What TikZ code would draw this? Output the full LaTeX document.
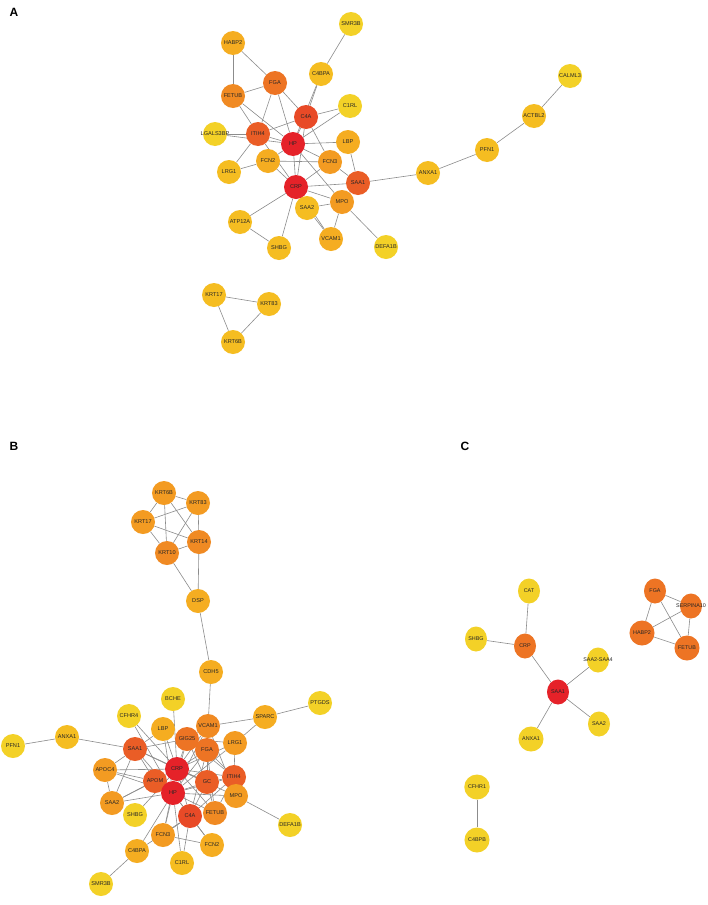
\documentclass[tikz,border=0pt]{standalone}
\usepackage{fontspec}
\newfontfamily\lab{Liberation Sans}
\usetikzlibrary{backgrounds}
\definecolor{cRed}{HTML}{E52229}
\definecolor{cRA}{HTML}{E84A27}
\definecolor{cRB}{HTML}{EA5D26}
\definecolor{cOA}{HTML}{ED7424}
\definecolor{cOB}{HTML}{F08A23}
\definecolor{cOC}{HTML}{F39B22}
\definecolor{cLO}{HTML}{F5AD21}
\definecolor{cGo}{HTML}{F5BD21}
\definecolor{cYe}{HTML}{F3D127}
\definecolor{cEdge}{HTML}{8C8C8C}
\tikzset{
  nd/.style={circle, minimum size=24pt, inner sep=0pt, draw=none, fill=#1,
    font=\lab\fontsize{5.6}{6}\selectfont, text=black!85},
  ndc/.style={ellipse, minimum width=22pt, minimum height=25pt, inner sep=0pt, draw=none, fill=#1,
    font=\lab\fontsize{5.4}{6}\selectfont, text=black!85},
  edge/.style={draw=cEdge, line width=0.6pt},
  panel/.style={font=\lab\bfseries\fontsize{12}{14}\selectfont, inner sep=0pt}
}
\usetikzlibrary{shapes.geometric}
\newcommand{\wide}[1]{\makebox[0pt]{#1}}
\begin{document}
\begin{tikzpicture}[x=1pt,y=-1pt]
\useasboundingbox (0,0) rectangle (708,905);
\node[panel] (pA) at (14,12) {A};
\node[panel] (pB) at (14,446) {B};
\node[panel] (pC) at (465,446) {C};
% ---------- Panel A ----------
\node[nd=cYe] (aSMR3B) at (351,24) {SMR3B};
\node[nd=cLO] (aHABP2) at (233,43) {HABP2};
\node[nd=cGo] (aC4BPA) at (321,74) {C4BPA};
\node[nd=cOA] (aFGA) at (275,83) {FGA};
\node[nd=cOB] (aFETUB) at (233,96) {FETUB};
\node[nd=cYe] (aC1RL) at (350,106) {C1RL};
\node[nd=cRA] (aC4A) at (306,117) {C4A};
\node[nd=cYe] (aLGALS3BP) at (215,134) {\wide{LGALS3BP}};
\node[nd=cRB] (aITIH4) at (258,134) {ITIH4};
\node[nd=cRed] (aHP) at (293,144) {HP};
\node[nd=cLO] (aLBP) at (348,142) {LBP};
\node[nd=cLO] (aFCN2) at (268,161) {FCN2};
\node[nd=cOC] (aFCN3) at (330,162) {FCN3};
\node[nd=cGo] (aLRG1) at (229,172) {LRG1};
\node[nd=cRed] (aCRP) at (296,187) {CRP};
\node[nd=cRB] (aSAA1) at (358,183) {SAA1};
\node[nd=cOC] (aMPO) at (342,202) {MPO};
\node[nd=cGo] (aSAA2) at (307,208) {SAA2};
\node[nd=cGo] (aATP12A) at (240,222) {ATP12A};
\node[nd=cLO] (aVCAM1) at (331,239) {VCAM1};
\node[nd=cGo] (aSHBG) at (279,248) {SHBG};
\node[nd=cYe] (aDEFA1B) at (386,247) {DEFA1B};
\node[nd=cGo] (aANXA1) at (428,173) {ANXA1};
\node[nd=cGo] (aPFN1) at (487,150) {PFN1};
\node[nd=cGo] (aACTBL2) at (534,116) {ACTBL2};
\node[nd=cYe] (aCALML3) at (570,76) {CALML3};
\node[nd=cGo] (aKRT17) at (214,295) {KRT17};
\node[nd=cGo] (aKRT83) at (269,304) {KRT83};
\node[nd=cGo] (aKRT6B) at (233,342) {KRT6B};
% ---------- Panel B ----------
\node[nd=cOC] (bKRT6B) at (164,493) {KRT6B};
\node[nd=cOC] (bKRT83) at (198,503) {KRT83};
\node[nd=cOC] (bKRT17) at (143,522) {KRT17};
\node[nd=cOB] (bKRT14) at (199,542) {KRT14};
\node[nd=cOB] (bKRT10) at (167,553) {KRT10};
\node[nd=cLO] (bDSP) at (198,601) {DSP};
\node[nd=cLO] (bCDH5) at (211,672) {CDH5};
\node[nd=cYe] (bBCHE) at (173,699) {BCHE};
\node[nd=cYe] (bPTGDS) at (320,703) {PTGDS};
\node[nd=cLO] (bSPARC) at (265,717) {SPARC};
\node[nd=cYe] (bCFHR4) at (129,716) {CFHR4};
\node[nd=cOB] (bVCAM1) at (208,726) {VCAM1};
\node[nd=cLO] (bLBP) at (163,729) {LBP};
\node[nd=cOA] (bGIG25) at (187,739) {GIG25};
\node[nd=cOC] (bLRG1) at (235,743) {LRG1};
\node[nd=cYe] (bPFN1) at (13,746) {PFN1};
\node[nd=cGo] (bANXA1) at (67,737) {ANXA1};
\node[nd=cRB] (bSAA1) at (135,749) {SAA1};
\node[nd=cOA] (bFGA) at (207,750) {FGA};
\node[nd=cRed] (bCRP) at (177,769) {CRP};
\node[nd=cOC] (bAPOC4) at (105,770) {APOC4};
\node[nd=cRB] (bITIH4) at (234,777) {ITIH4};
\node[nd=cRB] (bAPOM) at (155,781) {APOM};
\node[nd=cRB] (bGC) at (207,782) {GC};
\node[nd=cRed] (bHP) at (173,793) {HP};
\node[nd=cOC] (bMPO) at (236,796) {MPO};
\node[nd=cOC] (bSAA2) at (112,803) {SAA2};
\node[nd=cYe] (bSHBG) at (135,815) {SHBG};
\node[nd=cRA] (bC4A) at (190,816) {C4A};
\node[nd=cOB] (bFETUB) at (215,813) {FETUB};
\node[nd=cYe] (bDEFA1B) at (290,825) {DEFA1B};
\node[nd=cOC] (bFCN3) at (163,835) {FCN3};
\node[nd=cLO] (bFCN2) at (212,845) {FCN2};
\node[nd=cLO] (bC4BPA) at (137,851) {C4BPA};
\node[nd=cGo] (bC1RL) at (182,863) {C1RL};
\node[nd=cYe] (bSMR3B) at (101,884) {SMR3B};
% ---------- Panel C ----------
\node[ndc=cYe] (cCAT) at (529,591) {CAT};
\node[ndc=cYe] (cSHBG) at (476,639) {SHBG};
\node[ndc=cOA] (cCRP) at (525,646) {CRP};
\node[ndc=cYe] (cSAA24) at (598,660) {\wide{SAA2-SAA4}};
\node[ndc=cRed] (cSAA1) at (558,692) {SAA1};
\node[ndc=cYe] (cSAA2) at (599,724) {SAA2};
\node[ndc=cYe] (cANXA1) at (531,739) {ANXA1};
\node[ndc=cOA] (cFGA) at (655,591) {FGA};
\node[ndc=cOA] (cSERP) at (691,606) {\wide{SERPINA10}};
\node[ndc=cOA] (cHABP2) at (642,633) {HABP2};
\node[ndc=cOA] (cFETUB) at (687,648) {FETUB};
\node[ndc=cYe] (cCFHR1) at (477,787) {CFHR1};
\node[ndc=cYe] (cC4BPB) at (477,840) {C4BPB};
% ---------- Edges ----------
\begin{pgfonlayer}{background}
\fill[white] (0,0) rectangle (708,905);
\foreach \a/\b in {aSMR3B/aC4BPA, aHABP2/aFETUB, aHABP2/aFGA, aFGA/aFETUB, aC4BPA/aC4A, aC4BPA/aHP,
  aC1RL/aC4A, aC1RL/aHP, aFGA/aC4A, aFGA/aITIH4, aFGA/aHP, aFETUB/aITIH4, aFETUB/aHP,
  aITIH4/aC4A, aLGALS3BP/aITIH4, aLGALS3BP/aHP, aITIH4/aHP, aHP/aC4A, aITIH4/aLRG1,
  aLRG1/aFCN2, aITIH4/aCRP, aFCN2/aHP, aFCN2/aCRP, aFCN2/aFCN3, aHP/aLBP, aHP/aFCN3,
  aHP/aCRP, aHP/aMPO, aLBP/aSAA1, aFCN3/aSAA1, aCRP/aFCN3, aCRP/aSAA1, aCRP/aMPO,
  aCRP/aSAA2, aCRP/aATP12A, aCRP/aSHBG, aATP12A/aSHBG, aSAA1/aMPO, aSAA1/aANXA1,
  aSAA2/aMPO, aSAA2/aVCAM1, aMPO/aVCAM1, aMPO/aDEFA1B, aCRP/aVCAM1, aC4A/aFCN3,
  aC4A/aCRP, aANXA1/aPFN1, aPFN1/aACTBL2, aACTBL2/aCALML3,
  aKRT17/aKRT83, aKRT17/aKRT6B, aKRT83/aKRT6B}
  \draw[edge] (\a) -- (\b);
\foreach \a/\b in {bKRT6B/bKRT83, bKRT6B/bKRT17, bKRT6B/bKRT10, bKRT6B/bKRT14, bKRT83/bKRT17,
  bKRT83/bKRT10, bKRT83/bKRT14, bKRT17/bKRT10, bKRT17/bKRT14, bKRT10/bKRT14, bKRT10/bDSP,
  bKRT14/bDSP, bDSP/bCDH5, bCDH5/bVCAM1, bBCHE/bCRP, bCFHR4/bCRP, bCFHR4/bHP, bLBP/bSAA1,
  bLBP/bCRP, bLBP/bHP, bSAA1/bANXA1, bANXA1/bPFN1, bSAA1/bCRP, bSAA1/bHP, bSAA1/bAPOM,
  bSAA1/bAPOC4, bSAA1/bSAA2, bSAA1/bGIG25, bSAA1/bGC, bAPOC4/bAPOM, bAPOC4/bCRP, bAPOC4/bHP,
  bAPOC4/bSAA2, bSAA2/bAPOM, bSAA2/bHP, bSAA2/bCRP, bSHBG/bCRP, bVCAM1/bSPARC, bVCAM1/bCRP,
  bVCAM1/bGIG25, bVCAM1/bHP, bVCAM1/bMPO, bSPARC/bPTGDS, bSPARC/bLRG1, bLRG1/bITIH4,
  bLRG1/bCRP, bLRG1/bHP, bLRG1/bGIG25, bGIG25/bCRP, bGIG25/bHP, bGIG25/bFGA, bGIG25/bGC,
  bGIG25/bITIH4, bFGA/bCRP, bFGA/bHP, bFGA/bGC, bFGA/bITIH4, bFGA/bFETUB, bFGA/bC4A,
  bCRP/bHP, bCRP/bGC, bCRP/bAPOM, bCRP/bITIH4, bCRP/bC4A, bCRP/bFETUB, bCRP/bMPO, bCRP/bFCN3,
  bHP/bGC, bHP/bAPOM, bHP/bITIH4, bHP/bC4A, bHP/bFETUB, bHP/bFCN3, bHP/bC1RL, bHP/bC4BPA,
  bHP/bFCN2, bHP/bMPO, bGC/bITIH4, bGC/bC4A, bGC/bFETUB, bITIH4/bMPO, bITIH4/bC4A,
  bITIH4/bFETUB, bMPO/bDEFA1B, bC4A/bFCN2, bC4A/bFCN3, bC4A/bC4BPA, bC4A/bC1RL,
  bFCN3/bFCN2, bC4BPA/bSMR3B}
  \draw[edge] (\a) -- (\b);
\foreach \a/\b in {cCAT/cCRP, cSHBG/cCRP, cCRP/cSAA1, cSAA1/cSAA24, cSAA1/cSAA2, cSAA1/cANXA1,
  cFGA/cHABP2, cFGA/cFETUB, cFGA/cSERP, cHABP2/cSERP, cHABP2/cFETUB, cSERP/cFETUB, cCFHR1/cC4BPB}
  \draw[edge] (\a) -- (\b);
\end{pgfonlayer}
\end{tikzpicture}
\end{document}
